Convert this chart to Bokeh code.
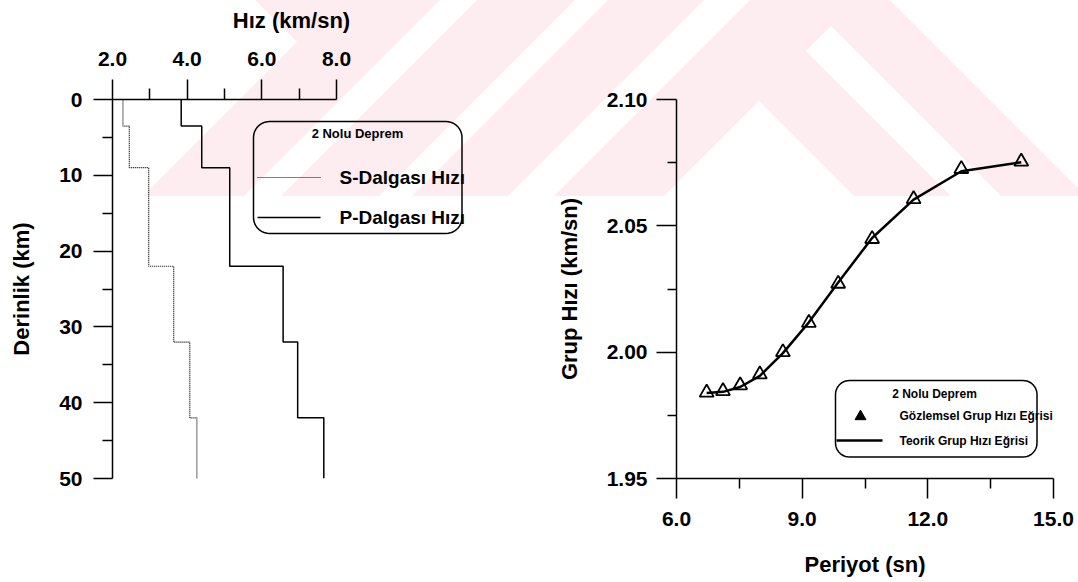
import numpy as np
from urllib.parse import quote
from bokeh.plotting import figure
from bokeh.layouts import row
from bokeh.models import Range1d, LinearAxis, FixedTicker, PrintfTickFormatter, Label
from bokeh.embed import file_html
from bokeh.resources import INLINE

# ---------------- data ----------------
depth_top = [0, 3.5, 9, 22, 32, 42]
depth_bottom = [3.5, 9, 22, 32, 42, 50]
s_velocity = [2.28, 2.45, 2.97, 3.64, 4.07, 4.26]
p_velocity = [3.84, 4.39, 5.14, 6.57, 6.96, 7.66]

period = [6.72, 7.11, 7.52, 7.99, 8.54, 9.16, 9.86, 10.67, 11.66, 12.80, 14.23]
observed_u = [1.9840, 1.9846, 1.9869, 1.9912, 2.0000, 2.0116, 2.0271, 2.0448, 2.0606, 2.0725, 2.0754]
theoretical_u = [1.9838, 1.9843, 1.9862, 1.9906, 1.9996, 2.0118, 2.0276, 2.0452, 2.0604, 2.0716, 2.0752]

left_xticks = [2, 4, 6, 8]
left_xminor = [3, 5, 7]
left_yticks = [0, 10, 20, 30, 40, 50]
left_yminor = [5, 15, 25, 35, 45]
right_xticks = [6, 9, 12, 15]
right_xminor = [7.5, 10.5, 13.5]
right_yticks = [1.95, 2.00, 2.05, 2.10]
right_yminor = [1.975, 2.025, 2.075]

FONT = "Liberation Sans"
NARROW = "'Liberation Sans Narrow', 'Liberation Sans', sans-serif"

# faint background watermark of the scanned page (page pixels): pink area, then white cut-outs
WM_PINK = [[(255, 0), (1078, 0), (1078, 196), (143, 196), (297, 42)]]
WM_WHITE = [
    [(440, 0), (477, 0), (281, 196), (244, 196)],
    [(575, 0), (608, 0), (412, 196), (379, 196)],
    [(704, 0), (750, 0), (554, 196), (508, 196)],
    [(831, 26), (1001, 196), (951, 196), (806, 51)],
    [(759, 101), (854, 196), (664, 196)],
    [(890, 0), (1078, 0), (1078, 196), (1086, 196)],
]


def style_axis(ax, tick_out, minor_out, standoff, label_standoff):
    ax.axis_line_color = "black"
    ax.axis_line_width = 1.5
    ax.major_tick_line_color = "black"
    ax.major_tick_line_width = 1.5
    ax.minor_tick_line_color = "black"
    ax.minor_tick_line_width = 1.5
    ax.major_tick_out = tick_out
    ax.major_tick_in = 0
    ax.minor_tick_out = minor_out
    ax.minor_tick_in = 0
    ax.major_label_text_font = FONT
    ax.major_label_text_font_size = "21px"
    ax.major_label_text_font_style = "bold"
    ax.major_label_text_color = "black"
    ax.major_label_standoff = standoff
    ax.axis_label_text_font = FONT
    ax.axis_label_text_font_size = "22px"
    ax.axis_label_text_font_style = "bold"
    ax.axis_label_text_color = "black"
    ax.axis_label_standoff = label_standoff


def step_profile(top, bottom, vel):
    xs, ys = [], []
    for t, b, v in zip(top, bottom, vel):
        xs += [v, v]
        ys += [t, b]
    return xs, ys


def rounded_box(fig, x0, y0, x1, y1, r, fx, fy):
    pts = []
    corners = [(x1 - r, y0 + r, -90, 0), (x1 - r, y1 - r, 0, 90),
               (x0 + r, y1 - r, 90, 180), (x0 + r, y0 + r, 180, 270)]
    for cx, cy, a0, a1 in corners:
        for a in np.linspace(np.radians(a0), np.radians(a1), 12):
            pts.append((cx + r * np.cos(a), cy + r * np.sin(a)))
    pts.append(pts[0])
    xs = [fx(p[0]) for p in pts]
    ys = [fy(p[1]) for p in pts]
    fig.line(xs, ys, line_color="black", line_width=1.5)


# ---------------- left figure (velocity profile) ----------------
W1 = 480
LF_L, LF_R, LF_T, LF_B = 112, 470, 99, 478   # frame in page px
lx_end = 2 + 6 * (LF_R - LF_L) / 224.0

left = figure(width=W1, height=582, x_range=Range1d(2, lx_end), y_range=Range1d(50, 0),
              output_backend="svg", toolbar_location=None,
              x_axis_location=None, y_axis_location=None,
              min_border_left=LF_L, min_border_right=W1 - LF_R,
              min_border_top=LF_T, min_border_bottom=582 - LF_B)
left.outline_line_color = None
left.xgrid.visible = False
left.ygrid.visible = False
left.background_fill_color = None
left.border_fill_color = None

top_ax = LinearAxis(axis_label="Hız (km/sn)", bounds=(2, 8),
                    ticker=FixedTicker(ticks=left_xticks, minor_ticks=left_xminor),
                    formatter=PrintfTickFormatter(format="%.1f"))
style_axis(top_ax, 20, 11, 14, 16)
left.add_layout(top_ax, "above")

left_ax = LinearAxis(axis_label="Derinlik (km)",
                     ticker=FixedTicker(ticks=left_yticks, minor_ticks=left_yminor))
style_axis(left_ax, 19, 10, 11, 22)
left.add_layout(left_ax, "left")


def lx(px):
    return 2 + (px - LF_L) * (lx_end - 2) / (LF_R - LF_L)


def ly(py):
    return (py - LF_T) * 50.0 / (LF_B - LF_T)


sx, sy = step_profile(depth_top, depth_bottom, s_velocity)
px_, py_ = step_profile(depth_top, depth_bottom, p_velocity)
left.line(sx, sy, line_color="black", line_width=1.2, line_dash="1 1")
left.line(px_, py_, line_color="black", line_width=1.5)

# legend (left)
rounded_box(left, 253, 121, 461.5, 233, 16, lx, ly)
left.add_layout(Label(x=lx(357), y=ly(133), text="2 Nolu Deprem", text_font=NARROW,
                      text_font_size="13px", text_font_style="bold", text_align="center",
                      text_baseline="middle", text_color="black"))
left.line([lx(257), lx(320)], [ly(177), ly(177)], line_color="black", line_width=1.2, line_dash="1 1")
left.line([lx(257), lx(320)], [ly(217), ly(217)], line_color="black", line_width=1.5)
left.add_layout(Label(x=lx(339), y=ly(177), text="S-Dalgası Hızı", text_font=FONT,
                      text_font_size="19px", text_font_style="bold", text_align="left",
                      text_baseline="middle", text_color="black"))
left.add_layout(Label(x=lx(339), y=ly(217), text="P-Dalgası Hızı", text_font=FONT,
                      text_font_size="19px", text_font_style="bold", text_align="left",
                      text_baseline="middle", text_color="black"))

# ---------------- right figure (group velocity) ----------------
W2 = 1078 - W1
RF_L, RF_R, RF_T, RF_B = 676, 1053, 99, 478

right = figure(width=W2, height=582, x_range=Range1d(6, 15), y_range=Range1d(1.95, 2.10),
               output_backend="svg", toolbar_location=None,
               x_axis_location=None, y_axis_location=None,
               min_border_left=RF_L - W1, min_border_right=1078 - RF_R,
               min_border_top=RF_T, min_border_bottom=582 - RF_B)
right.outline_line_color = None
right.xgrid.visible = False
right.ygrid.visible = False
right.background_fill_color = None
right.border_fill_color = None

bx = LinearAxis(axis_label="Periyot (sn)",
                ticker=FixedTicker(ticks=right_xticks, minor_ticks=right_xminor),
                formatter=PrintfTickFormatter(format="%.1f"))
style_axis(bx, 20, 10, 13, 23)
right.add_layout(bx, "below")

ry_ax = LinearAxis(axis_label="Grup Hızı (km/sn)",
                   ticker=FixedTicker(ticks=right_yticks, minor_ticks=right_yminor),
                   formatter=PrintfTickFormatter(format="%.2f"))
style_axis(ry_ax, 20, 9, 9, 22)
right.add_layout(ry_ax, "left")


def rx(px):
    return 6 + (px - RF_L) * 9.0 / (RF_R - RF_L)


def ry(py):
    return 2.10 - (py - RF_T) * 0.15 / (RF_B - RF_T)


right.line(period, theoretical_u, line_color="black", line_width=2.5)
right.scatter(period, observed_u, marker="triangle", size=14, line_color="black",
              line_width=1.8, fill_alpha=0)

# legend (right)
rounded_box(right, 835, 380, 1036.5, 456.5, 14, rx, ry)
right.add_layout(Label(x=rx(934), y=ry(393), text="2 Nolu Deprem", text_font=NARROW,
                       text_font_size="12px", text_font_style="bold", text_align="center",
                       text_baseline="middle", text_color="black"))
right.scatter([rx(860)], [ry(416)], marker="triangle", size=11, fill_color="black",
              line_color="black")
right.line([rx(836), rx(882)], [ry(440), ry(440)], line_color="black", line_width=2.5)
right.add_layout(Label(x=rx(899), y=ry(415), text="Gözlemsel Grup Hızı Eğrisi", text_font=NARROW,
                       text_font_size="12px", text_font_style="bold", text_align="left",
                       text_baseline="middle", text_color="black"))
right.add_layout(Label(x=rx(899), y=ry(440), text="Teorik Grup Hızı Eğrisi", text_font=NARROW,
                       text_font_size="12px", text_font_style="bold", text_align="left",
                       text_baseline="middle", text_color="black"))

layout = row(left, right)
html = file_html(layout, INLINE)

# page background carrying the faint watermark (figures are transparent)
polys = "".join(
    "<polygon points='%s' fill='%s'/>" % (" ".join("%g,%g" % p for p in poly), col)
    for shapes, col in ((WM_PINK, "rgb(253,237,240)"), (WM_WHITE, "rgb(255,255,255)"))
    for poly in shapes)
svg_bg = ("<svg xmlns='http://www.w3.org/2000/svg' width='1078' height='582'>"
          "<rect width='1078' height='582' fill='white'/>" + polys + "</svg>")
style = ("<style>html,body{margin:0;padding:0;background-color:white;"
         "background-image:url(\"data:image/svg+xml," + quote(svg_bg) + "\");"
         "background-repeat:no-repeat;background-position:0 0;}</style>")
html = html.replace("<head>", "<head>" + style, 1)
open("out.html", "w").write(html)
